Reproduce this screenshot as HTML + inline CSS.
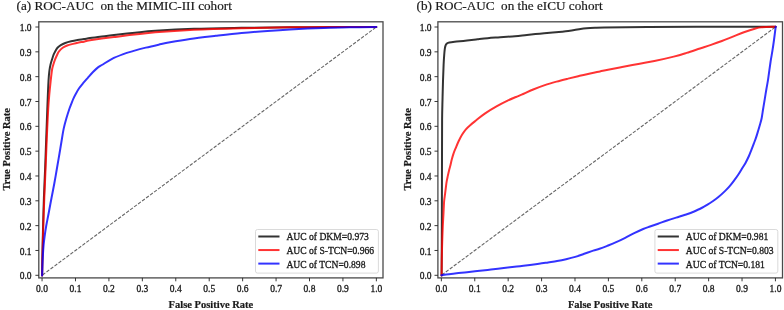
<!DOCTYPE html>
<html><head><meta charset="utf-8"><style>
html,body{margin:0;padding:0;background:#fff;}
svg{display:block;}
text{filter:grayscale(1);}
text{font-family:"Liberation Serif",serif;fill:#1a1a1a;stroke:#1a1a1a;stroke-width:0.2px;}
.t{font-size:13.2px;}
.n{font-size:9.5px;stroke-width:0.3px;}
.lt{font-size:9.6px;}
.b{font-size:10.5px;font-weight:bold;}
.c{fill:none;stroke-opacity:0.8;stroke-width:2;stroke-linejoin:round;stroke-linecap:round;}
.lgl{stroke-linecap:butt;}
.dash{stroke:#666;stroke-width:1.1;stroke-dasharray:3.45 1.51;stroke-dashoffset:4.36;}
.fr{fill:none;stroke:#4a4a4a;stroke-width:1.3;}
.tk{stroke:#222;stroke-width:0.9;}
.lg{fill:#fff;fill-opacity:0.8;stroke:#d0d0d0;stroke-width:0.8;}
</style></head><body>
<svg width="784" height="310" viewBox="0 0 784 310">
<rect width="784" height="310" fill="#fff"/>
<text x="16.5" y="10.1" class="t">(a) ROC-AUC&#160; on the MIMIC-III cohort</text>
<line x1="42.06" y1="275.3" x2="376.36" y2="27" class="dash"/>
<path d="M42.1,275.4 C42.12,273.67 42.13,269.23 42.2,265 C42.27,260.77 42.37,256 42.5,250 C42.63,244 42.77,237.67 43,229 C43.23,220.33 43.55,208 43.9,198 C44.25,188 44.72,178.83 45.1,169 C45.48,159.17 45.83,149 46.2,139 C46.57,129 46.92,118.67 47.3,109 C47.68,99.33 48.13,87.5 48.5,81 C48.87,74.5 49.15,72.78 49.5,70 C49.85,67.22 50.17,66.1 50.6,64.3 C51.03,62.5 51.58,60.84 52.1,59.2 C52.62,57.56 53.17,55.78 53.7,54.45 C54.23,53.12 54.67,52.37 55.3,51.25 C55.93,50.13 56.58,48.77 57.5,47.75 C58.42,46.73 59.5,45.95 60.8,45.15 C62.1,44.35 63.58,43.6 65.3,42.95 C67.02,42.3 69.07,41.75 71.1,41.25 C73.13,40.75 75.35,40.32 77.5,39.95 C79.65,39.58 81.92,39.37 84,39.05 C86.08,38.73 87.33,38.42 90,38.05 C92.67,37.68 96,37.35 100,36.85 C104,36.35 108.17,35.73 114,35.05 C119.83,34.37 128.12,33.45 135,32.75 C141.88,32.05 145.47,31.5 155.3,30.85 C165.13,30.2 179.62,29.35 194,28.85 C208.38,28.35 225.6,28.12 241.6,27.85 C257.6,27.58 273.6,27.39 290,27.25 C306.4,27.12 325.62,27.09 340,27.04 C354.38,26.98 370.25,26.96 376.3,26.95" class="c" stroke="#000"/>
<path d="M42.1,275.4 C42.15,272.67 42.22,266.73 42.4,259 C42.58,251.27 42.88,239.17 43.2,229 C43.52,218.83 43.9,208.17 44.3,198 C44.7,187.83 45.18,178 45.6,168 C46.02,158 46.37,147.83 46.8,138 C47.23,128.17 47.77,116.42 48.2,109 C48.63,101.58 49,98.07 49.4,93.5 C49.8,88.93 50.17,85.52 50.6,81.6 C51.03,77.68 51.55,72.81 52,70 C52.45,67.19 52.8,66.47 53.3,64.75 C53.8,63.02 54.33,61.37 55,59.65 C55.67,57.93 56.67,55.78 57.3,54.45 C57.93,53.12 57.9,52.77 58.8,51.65 C59.7,50.53 61.3,48.78 62.7,47.75 C64.1,46.72 65.48,46.1 67.2,45.45 C68.92,44.8 71.07,44.33 73,43.85 C74.93,43.37 76.97,42.92 78.8,42.55 C80.63,42.18 82.13,42.02 84,41.65 C85.87,41.28 85,41.12 90,40.35 C95,39.58 103.12,38.38 114,37.05 C124.88,35.72 141.97,33.58 155.3,32.35 C168.63,31.12 179.62,30.35 194,29.65 C208.38,28.95 225.6,28.53 241.6,28.15 C257.6,27.77 273.6,27.54 290,27.35 C306.4,27.17 325.62,27.1 340,27.04 C354.38,26.97 370.25,26.96 376.3,26.95" class="c" stroke="#f00"/>
<path d="M42.1,275.4 C42.2,272.67 42.45,264.07 42.7,259 C42.95,253.93 43.25,249 43.6,245 C43.95,241 44.37,238.17 44.8,235 C45.23,231.83 45.57,229.58 46.2,226 C46.83,222.42 47.72,218.17 48.6,213.5 C49.48,208.83 50.55,203 51.5,198 C52.45,193 53.38,188.5 54.3,183.5 C55.22,178.5 56.13,173 57,168 C57.87,163 58.68,158.33 59.5,153.5 C60.32,148.67 61.2,143.15 61.9,139 C62.6,134.85 62.95,132.05 63.7,128.6 C64.45,125.15 65.43,121.65 66.4,118.3 C67.37,114.95 68.68,110.92 69.5,108.5 C70.32,106.08 70.65,105.45 71.3,103.8 C71.95,102.15 72.62,100.32 73.4,98.6 C74.18,96.88 75.05,95.22 76,93.5 C76.95,91.78 77.92,90.02 79.1,88.3 C80.28,86.58 81.65,84.95 83.1,83.2 C84.55,81.45 86.15,79.67 87.8,77.8 C89.45,75.93 91.3,73.73 93,72 C94.7,70.27 96.45,68.61 98,67.4 C99.55,66.19 100.03,66.14 102.3,64.75 C104.57,63.36 108.1,60.82 111.6,59.05 C115.1,57.28 119.75,55.47 123.3,54.15 C126.85,52.83 129.15,52.23 132.9,51.15 C136.65,50.07 141.5,48.73 145.8,47.65 C150.1,46.57 154.67,45.55 158.7,44.65 C162.73,43.75 164.78,43.2 170,42.25 C175.22,41.3 182.37,40.02 190,38.95 C197.63,37.88 207.2,36.83 215.8,35.85 C224.4,34.87 233,33.87 241.6,33.05 C250.2,32.23 259.33,31.51 267.4,30.91 C275.47,30.31 280.62,29.94 290,29.45 C299.38,28.97 313.78,28.33 323.7,27.97 C333.62,27.62 340.73,27.48 349.5,27.31 C358.27,27.14 371.83,27.01 376.3,26.95" class="c" stroke="#00f"/>
<rect x="38.8" y="21.8" width="344.2" height="256.1" class="fr"/>
<path d="M42.06,277.9v3.4M38.8,275.3h-3.4M75.49,277.9v3.4M38.8,250.47h-3.4M108.92,277.9v3.4M38.8,225.64h-3.4M142.35,277.9v3.4M38.8,200.81h-3.4M175.78,277.9v3.4M38.8,175.98h-3.4M209.21,277.9v3.4M38.8,151.15h-3.4M242.64,277.9v3.4M38.8,126.32h-3.4M276.07,277.9v3.4M38.8,101.49h-3.4M309.5,277.9v3.4M38.8,76.66h-3.4M342.93,277.9v3.4M38.8,51.83h-3.4M376.36,277.9v3.4M38.8,27h-3.4" class="tk"/>
<text x="42.06" y="291.8" class="n" text-anchor="middle">0.0</text>
<text x="31.6" y="279.4" class="n" text-anchor="end">0.0</text>
<text x="75.49" y="291.8" class="n" text-anchor="middle">0.1</text>
<text x="31.6" y="254.57" class="n" text-anchor="end">0.1</text>
<text x="108.92" y="291.8" class="n" text-anchor="middle">0.2</text>
<text x="31.6" y="229.74" class="n" text-anchor="end">0.2</text>
<text x="142.35" y="291.8" class="n" text-anchor="middle">0.3</text>
<text x="31.6" y="204.91" class="n" text-anchor="end">0.3</text>
<text x="175.78" y="291.8" class="n" text-anchor="middle">0.4</text>
<text x="31.6" y="180.08" class="n" text-anchor="end">0.4</text>
<text x="209.21" y="291.8" class="n" text-anchor="middle">0.5</text>
<text x="31.6" y="155.25" class="n" text-anchor="end">0.5</text>
<text x="242.64" y="291.8" class="n" text-anchor="middle">0.6</text>
<text x="31.6" y="130.42" class="n" text-anchor="end">0.6</text>
<text x="276.07" y="291.8" class="n" text-anchor="middle">0.7</text>
<text x="31.6" y="105.59" class="n" text-anchor="end">0.7</text>
<text x="309.5" y="291.8" class="n" text-anchor="middle">0.8</text>
<text x="31.6" y="80.76" class="n" text-anchor="end">0.8</text>
<text x="342.93" y="291.8" class="n" text-anchor="middle">0.9</text>
<text x="31.6" y="55.93" class="n" text-anchor="end">0.9</text>
<text x="376.36" y="291.8" class="n" text-anchor="middle">1.0</text>
<text x="31.6" y="31.1" class="n" text-anchor="end">1.0</text>
<text x="210.9" y="308.3" class="b" text-anchor="middle">False Positive Rate</text>
<text transform="translate(10,149.3) rotate(-90)" class="b" text-anchor="middle">True Positive Rate</text>
<rect x="255.5" y="229.5" width="122.9" height="43.6" rx="2" class="lg"/>
<line x1="258.3" y1="236.5" x2="279.5" y2="236.5" stroke="#000" class="c lgl"/>
<text x="286.4" y="240.4" class="n lt">AUC of DKM=0.973</text>
<line x1="258.3" y1="250.05" x2="279.5" y2="250.05" stroke="#f00" class="c lgl"/>
<text x="286.4" y="253.95" class="n lt">AUC of S-TCN=0.966</text>
<line x1="258.3" y1="263.6" x2="279.5" y2="263.6" stroke="#00f" class="c lgl"/>
<text x="286.4" y="267.5" class="n lt">AUC of TCN=0.898</text>
<text x="416.5" y="10.1" class="t">(b) ROC-AUC&#160; on the eICU cohort</text>
<line x1="441.35" y1="275.3" x2="775.45" y2="27" class="dash"/>
<path d="M441.6,275.4 C441.63,269.5 441.75,252.57 441.8,240 C441.85,227.43 441.87,213.33 441.9,200 C441.93,186.67 441.97,173.33 442,160 C442.03,146.67 442.02,130 442.1,120 C442.18,110 442.35,106.5 442.5,100 C442.65,93.5 442.82,86.83 443,81 C443.18,75.17 443.4,69.33 443.6,65 C443.8,60.67 444,57.7 444.2,55 C444.4,52.3 444.57,50.42 444.8,48.8 C445.03,47.18 445.27,46.17 445.6,45.3 C445.93,44.43 446.17,44.07 446.8,43.6 C447.43,43.13 447.77,42.83 449.4,42.5 C451.03,42.17 453.67,41.93 456.6,41.6 C459.53,41.27 463.55,40.88 467,40.5 C470.45,40.12 473.87,39.68 477.3,39.3 C480.73,38.92 484.15,38.52 487.6,38.2 C491.05,37.88 493.43,37.73 498,37.4 C502.57,37.07 510.18,36.62 515,36.2 C519.82,35.78 522.77,35.32 526.9,34.9 C531.03,34.48 535.5,34.08 539.8,33.7 C544.1,33.32 549,32.93 552.7,32.6 C556.4,32.27 559.42,31.97 562,31.7 C564.58,31.43 566.13,31.27 568.2,31 C570.27,30.73 572.35,30.45 574.4,30.1 C576.45,29.75 578.47,29.22 580.5,28.9 C582.53,28.58 584.18,28.38 586.6,28.2 C589.02,28.02 592.05,27.9 595,27.8 C597.95,27.7 595.35,27.72 604.3,27.6 C613.25,27.48 631.08,27.23 648.7,27.1 C666.32,26.97 688.83,26.87 710,26.8 C731.17,26.73 764.75,26.72 775.7,26.7" class="c" stroke="#000"/>
<path d="M441.6,275.4 C441.63,272.5 441.7,263.57 441.8,258 C441.9,252.43 442.03,247.33 442.2,242 C442.37,236.67 442.58,230.83 442.8,226 C443.02,221.17 443.28,217.08 443.5,213 C443.72,208.92 443.83,204.72 444.1,201.5 C444.37,198.28 444.8,196.08 445.1,193.7 C445.4,191.32 445.65,189.18 445.9,187.2 C446.15,185.22 446.3,183.6 446.6,181.8 C446.9,180 447.28,178.33 447.7,176.4 C448.12,174.47 448.63,172.1 449.1,170.2 C449.57,168.3 450.07,166.73 450.5,165 C450.93,163.27 451.2,161.7 451.7,159.8 C452.2,157.9 452.82,155.6 453.5,153.6 C454.18,151.6 454.95,149.85 455.8,147.8 C456.65,145.75 457.57,143.48 458.6,141.3 C459.63,139.12 460.78,136.7 462,134.7 C463.22,132.7 464.48,130.93 465.9,129.3 C467.32,127.67 468.78,126.4 470.5,124.9 C472.22,123.4 473.82,122.18 476.2,120.3 C478.58,118.42 481.42,115.92 484.8,113.6 C488.18,111.28 492.62,108.6 496.5,106.4 C500.38,104.2 504.85,101.97 508.1,100.4 C511.35,98.83 513.75,97.95 516,97 C518.25,96.05 518.73,95.95 521.6,94.7 C524.47,93.45 529.33,91.1 533.2,89.5 C537.07,87.9 540.92,86.42 544.8,85.1 C548.68,83.78 552.62,82.68 556.5,81.6 C560.38,80.52 564.23,79.57 568.1,78.6 C571.97,77.63 575.83,76.7 579.7,75.8 C583.57,74.9 587.92,73.93 591.3,73.2 C594.68,72.47 597.22,71.98 600,71.4 C602.78,70.82 604.32,70.42 608,69.7 C611.68,68.98 617.05,68.07 622.1,67.1 C627.15,66.13 632.92,64.92 638.3,63.9 C643.68,62.88 648.5,62.22 654.4,61 C660.3,59.78 668.33,57.95 673.7,56.6 C679.07,55.25 682.22,54.25 686.6,52.9 C690.98,51.55 695.93,49.83 700,48.5 C704.07,47.17 707.35,46.15 711,44.9 C714.65,43.65 718.25,42.38 721.9,41 C725.55,39.62 729.23,38.05 732.9,36.6 C736.57,35.15 740.25,33.62 743.9,32.3 C747.55,30.98 751.88,29.53 754.8,28.7 C757.72,27.87 757.92,27.63 761.4,27.3 C764.88,26.97 773.32,26.8 775.7,26.7" class="c" stroke="#f00"/>
<path d="M441.4,275.2 C442.67,275.03 446.47,274.52 449,274.2 C451.53,273.88 453.6,273.62 456.6,273.3 C459.6,272.98 463.55,272.67 467,272.3 C470.45,271.93 473.87,271.5 477.3,271.1 C480.73,270.7 484.17,270.3 487.6,269.9 C491.03,269.5 494.17,269.13 497.9,268.7 C501.63,268.27 506.32,267.72 510,267.3 C513.68,266.88 516.67,266.58 520,266.2 C523.33,265.82 526.83,265.4 530,265 C533.17,264.6 535.98,264.23 539,263.8 C542.02,263.37 545.08,262.87 548.1,262.4 C551.12,261.93 554.1,261.53 557.1,261 C560.1,260.47 563.08,259.88 566.1,259.2 C569.12,258.52 572.18,257.8 575.2,256.9 C578.22,256 581.2,254.85 584.2,253.8 C587.2,252.75 590.65,251.43 593.2,250.6 C595.75,249.77 597.18,249.58 599.5,248.8 C601.82,248.02 604.33,247 607.1,245.9 C609.87,244.8 613.08,243.55 616.1,242.2 C619.12,240.85 622.18,239.32 625.2,237.8 C628.22,236.28 631.2,234.57 634.2,233.1 C637.2,231.63 640.57,230.1 643.2,229 C645.83,227.9 647.52,227.38 650,226.5 C652.48,225.62 655.25,224.7 658.1,223.7 C660.95,222.7 664.1,221.52 667.1,220.5 C670.1,219.48 673.08,218.55 676.1,217.6 C679.12,216.65 682.18,215.82 685.2,214.8 C688.22,213.78 691.2,212.78 694.2,211.5 C697.2,210.22 700.98,208.25 703.2,207.1 C705.42,205.95 705.98,205.53 707.5,204.6 C709.02,203.67 710.43,202.8 712.3,201.5 C714.17,200.2 716.55,198.57 718.7,196.8 C720.85,195.03 723.37,192.67 725.2,190.9 C727.03,189.13 728.2,187.95 729.7,186.2 C731.2,184.45 732.7,182.43 734.2,180.4 C735.7,178.37 737.37,176.02 738.7,174 C740.03,171.98 741.07,170.15 742.2,168.3 C743.33,166.45 744.42,164.87 745.5,162.9 C746.58,160.93 747.73,158.63 748.7,156.5 C749.67,154.37 750.45,152.25 751.3,150.1 C752.15,147.95 753,145.72 753.8,143.6 C754.6,141.48 755.38,139.52 756.1,137.4 C756.82,135.28 757.45,133.05 758.1,130.9 C758.75,128.75 759.4,126.65 760,124.5 C760.6,122.35 761.17,120.67 761.7,118 C762.23,115.33 762.68,111.7 763.2,108.5 C763.72,105.3 764.25,102.13 764.8,98.8 C765.35,95.47 765.95,91.73 766.5,88.5 C767.05,85.27 767.42,83.9 768.1,79.4 C768.78,74.9 769.88,66.25 770.6,61.5 C771.32,56.75 771.83,54.48 772.4,50.9 C772.97,47.32 773.45,44.03 774,40 C774.55,35.97 775.42,28.92 775.7,26.7" class="c" stroke="#00f"/>
<rect x="437.9" y="21.8" width="344.6" height="256.1" class="fr"/>
<path d="M441.35,277.9v3.4M437.9,275.3h-3.4M474.76,277.9v3.4M437.9,250.47h-3.4M508.17,277.9v3.4M437.9,225.64h-3.4M541.58,277.9v3.4M437.9,200.81h-3.4M574.99,277.9v3.4M437.9,175.98h-3.4M608.4,277.9v3.4M437.9,151.15h-3.4M641.81,277.9v3.4M437.9,126.32h-3.4M675.22,277.9v3.4M437.9,101.49h-3.4M708.63,277.9v3.4M437.9,76.66h-3.4M742.04,277.9v3.4M437.9,51.83h-3.4M775.45,277.9v3.4M437.9,27h-3.4" class="tk"/>
<text x="441.35" y="291.8" class="n" text-anchor="middle">0.0</text>
<text x="431.6" y="279.4" class="n" text-anchor="end">0.0</text>
<text x="474.76" y="291.8" class="n" text-anchor="middle">0.1</text>
<text x="431.6" y="254.57" class="n" text-anchor="end">0.1</text>
<text x="508.17" y="291.8" class="n" text-anchor="middle">0.2</text>
<text x="431.6" y="229.74" class="n" text-anchor="end">0.2</text>
<text x="541.58" y="291.8" class="n" text-anchor="middle">0.3</text>
<text x="431.6" y="204.91" class="n" text-anchor="end">0.3</text>
<text x="574.99" y="291.8" class="n" text-anchor="middle">0.4</text>
<text x="431.6" y="180.08" class="n" text-anchor="end">0.4</text>
<text x="608.4" y="291.8" class="n" text-anchor="middle">0.5</text>
<text x="431.6" y="155.25" class="n" text-anchor="end">0.5</text>
<text x="641.81" y="291.8" class="n" text-anchor="middle">0.6</text>
<text x="431.6" y="130.42" class="n" text-anchor="end">0.6</text>
<text x="675.22" y="291.8" class="n" text-anchor="middle">0.7</text>
<text x="431.6" y="105.59" class="n" text-anchor="end">0.7</text>
<text x="708.63" y="291.8" class="n" text-anchor="middle">0.8</text>
<text x="431.6" y="80.76" class="n" text-anchor="end">0.8</text>
<text x="742.04" y="291.8" class="n" text-anchor="middle">0.9</text>
<text x="431.6" y="55.93" class="n" text-anchor="end">0.9</text>
<text x="775.45" y="291.8" class="n" text-anchor="middle">1.0</text>
<text x="431.6" y="31.1" class="n" text-anchor="end">1.0</text>
<text x="610.2" y="308.3" class="b" text-anchor="middle">False Positive Rate</text>
<text transform="translate(411.2,149.3) rotate(-90)" class="b" text-anchor="middle">True Positive Rate</text>
<rect x="654.9" y="229.5" width="122.9" height="43.6" rx="2" class="lg"/>
<line x1="657.7" y1="236.5" x2="678.9" y2="236.5" stroke="#000" class="c lgl"/>
<text x="685.8" y="240.4" class="n lt">AUC of DKM=0.981</text>
<line x1="657.7" y1="250.05" x2="678.9" y2="250.05" stroke="#f00" class="c lgl"/>
<text x="685.8" y="253.95" class="n lt">AUC of S-TCN=0.803</text>
<line x1="657.7" y1="263.6" x2="678.9" y2="263.6" stroke="#00f" class="c lgl"/>
<text x="685.8" y="267.5" class="n lt">AUC of TCN=0.181</text>
</svg>
</body></html>
